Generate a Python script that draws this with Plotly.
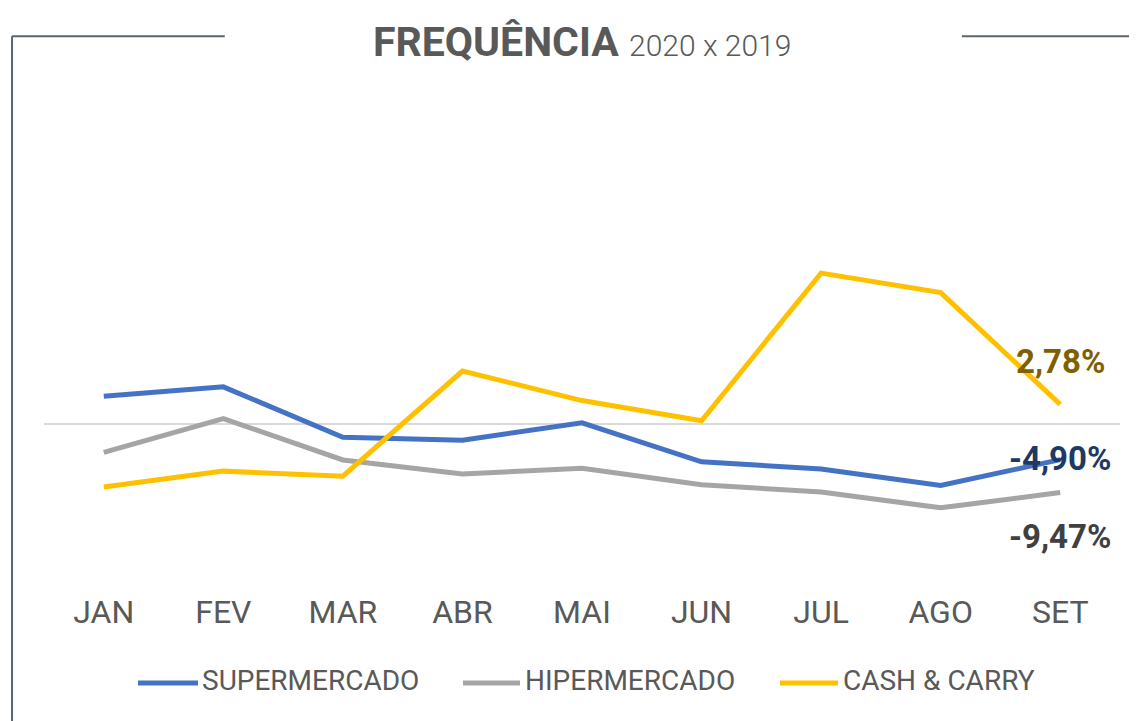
import plotly.graph_objects as go

months = ["JAN", "FEV", "MAR", "ABR", "MAI", "JUN", "JUL", "AGO", "SET"]
supermercado = [3.9, 5.2, -1.8, -2.2, 0.2, -5.2, -6.2, -8.5, -4.90]
hipermercado = [-3.9, 0.8, -4.95, -6.9, -6.1, -8.4, -9.4, -11.6, -9.47]
cash_carry = [-8.7, -6.5, -7.2, 7.4, 3.3, 0.5, 21.0, 18.3, 2.78]

series_names = ["SUPERMERCADO", "HIPERMERCADO", "CASH & CARRY"]
series_values = [supermercado, hipermercado, cash_carry]
series_colors = ["#4472C4", "#A5A5A5", "#FFC000"]
label_colors = ["#203864", "#404040", "#7F6000"]
label_texts = ["-4,90%", "-9,47%", "2,78%"]
label_shifts = [1, -44, 43]

fig = go.Figure()
for name, vals, col in zip(series_names, series_values, series_colors):
    fig.add_trace(go.Scatter(x=months, y=vals, mode="lines", name=name,
                             line=dict(color=col, width=5), showlegend=False))

for vals, txt, col, sh in zip(series_values, label_texts, label_colors, label_shifts):
    fig.add_annotation(x=months[-1], y=vals[-1], text="<b>" + txt + "</b>", showarrow=False,
                       xanchor="center", yanchor="middle", yshift=sh,
                       font=dict(family="Roboto", size=33, color=col))

# manual legend (paper coordinates relative to plot area)
legend_sym = [(0.0874, 0.1431), (0.3894, 0.4424), (0.684, 0.7379)]
legend_txt_x = [0.145, 0.4452, 0.7407]
for name, col, (sx0, sx1), tx in zip(series_names, series_colors, legend_sym, legend_txt_x):
    fig.add_shape(type="line", xref="paper", yref="paper", x0=sx0, x1=sx1, y0=-0.2146, y1=-0.2146,
                  line=dict(color=col, width=5))
    fig.add_annotation(xref="paper", yref="paper", x=tx, y=-0.2104, xanchor="left", yanchor="middle",
                       showarrow=False, text=name,
                       font=dict(family="Roboto", size=28, color="#595959"))

# title
fig.add_annotation(xref="paper", yref="paper", x=0.5, y=1.121, xanchor="center", yanchor="middle",
                   showarrow=False,
                   text="<b>FREQUÊNCIA</b> <span style='font-weight:300;font-size:30px'>2020 x 2019</span>",
                   font=dict(family="Roboto", size=41, color="#595959"))

# frame lines
frame_color = "#5A6570"
fig.add_shape(type="line", xref="paper", yref="paper", x0=-0.0297, x1=-0.0297, y0=1.133, y1=-0.32,
              line=dict(color=frame_color, width=2))
fig.add_shape(type="line", xref="paper", yref="paper", x0=-0.0297, x1=0.168, y0=1.133, y1=1.133,
              line=dict(color=frame_color, width=2))
fig.add_shape(type="line", xref="paper", yref="paper", x0=0.853, x1=1.02, y0=1.133, y1=1.133,
              line=dict(color=frame_color, width=2))

fig.update_layout(
    width=1129, height=713,
    margin=dict(l=36, r=17, t=92, b=141),
    paper_bgcolor="white", plot_bgcolor="white",
    font=dict(family="Roboto", color="#595959"),
    showlegend=False,
    xaxis=dict(showgrid=False, showline=False, ticks="", range=[-0.5, 8.5],
               tickfont=dict(family="Roboto", size=32, color="#595959"), ticklabelstandoff=10),
    yaxis=dict(showgrid=False, showticklabels=False, range=[-21.62, 45.04],
               zeroline=True, zerolinecolor="#D9D9D9", zerolinewidth=1.5),
)

fig.write_html("out.html")
